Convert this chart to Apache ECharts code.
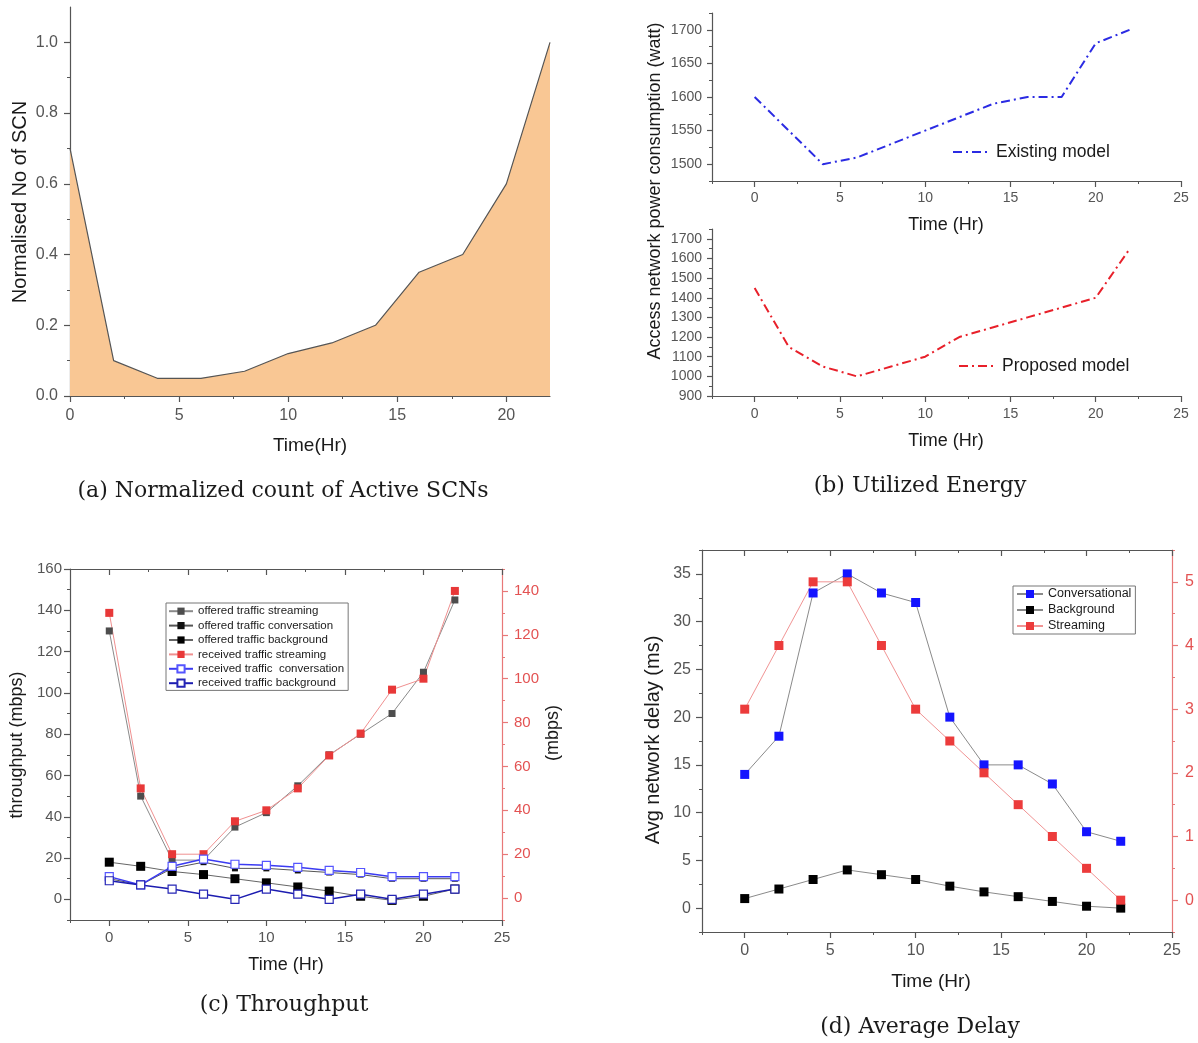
<!DOCTYPE html>
<html>
<head>
<meta charset="utf-8">
<script src="https://cdn.jsdelivr.net/npm/echarts@6/dist/echarts.min.js"></script>
<style>
html, body { margin: 0; padding: 0; background: #fff; }
#chart { width: 1198px; height: 1043px; }
</style>
</head>
<body>
<div id="chart"></div>
<script>
// ---- data ----
const hours = [0, 2, 4, 6, 8, 10, 12, 14, 16, 18, 20, 22];

// (a) normalised number of active small-cell nodes
const activeScn = [0.7, 0.1, 0.05, 0.05, 0.07, 0.12, 0.15, 0.2, 0.35, 0.4, 0.6, 1.0];

// (b) access network power consumption (watt)
const existingPower = [1600, 1550, 1500, 1510, 1530, 1550, 1570, 1590, 1600, 1600, 1680, 1700];
const proposedPower = [1450, 1150, 1050, 1000, 1050, 1100, 1200, 1250, 1300, 1350, 1400, 1650];

// (c) throughput (mbps)
const offeredStreaming = [130, 50, 19, 19, 35, 42, 55, 70, 80, 90, 110, 145];
const offeredConversation = [10, 7, 15, 18, 15, 15, 14, 13, 12, 10, 10, 10];
const offeredBackground = [18, 16, 13.5, 12, 10, 8, 6, 4, 1.5, -0.5, 1.5, 5];
const receivedStreaming = [130, 50, 20, 20, 35, 40, 50, 65, 75, 95, 100, 140];
const receivedConversation = [11, 7, 16, 19.5, 17, 16.5, 15.5, 14, 13, 11, 11, 11];
const receivedBackground = [9, 7, 5, 2.5, 0, 5, 2.5, 0, 2.5, 0, 2.5, 5];

// (d) average network delay (ms)
const conversationalDelay = [14, 18, 33, 35, 33, 32, 20, 15, 15, 13, 8, 7];
const backgroundDelay = [1, 2, 3, 4, 3.5, 3, 2.3, 1.7, 1.2, 0.7, 0.2, 0];
const streamingDelay = [3, 4, 5, 5, 4, 3, 2.5, 2, 1.5, 1, 0.5, 0];

// ---- tick values ----
const scnTimeTicks = [0, 5, 10, 15, 20];
const scnTimeMinor = [2.5, 7.5, 12.5, 17.5];
const scnTicks = [0, 0.2, 0.4, 0.6, 0.8, 1.0];
const scnMinor = [0.1, 0.3, 0.5, 0.7, 0.9];
const timeTicks = [0, 5, 10, 15, 20, 25];
const timeMinor = [-2.5, 2.5, 7.5, 12.5, 17.5, 22.5];
const existingTicks = [1500, 1550, 1600, 1650, 1700];
const existingMinor = [1475, 1525, 1575, 1625, 1675, 1725];
const proposedTicks = [900, 1000, 1100, 1200, 1300, 1400, 1500, 1600, 1700];
const proposedMinor = [950, 1050, 1150, 1250, 1350, 1450, 1550, 1650, 1750];
const throughputTicks = [0, 20, 40, 60, 80, 100, 120, 140, 160];
const throughputMinor = [-10, 10, 30, 50, 70, 90, 110, 130, 150];
const mbpsTicks = [0, 20, 40, 60, 80, 100, 120, 140];
const mbpsMinor = [-10, 10, 30, 50, 70, 90, 110, 130, 150];
const delayTicks = [0, 5, 10, 15, 20, 25, 30, 35];
const delayMinor = [-2.5, 2.5, 7.5, 12.5, 17.5, 22.5, 27.5, 32.5, 37.5];
const streamDelayTicks = [0, 1, 2, 3, 4, 5];
const streamDelayMinor = [-0.5, 0.5, 1.5, 2.5, 3.5, 4.5, 5.5];

// ---- helpers ----
const SANS = '"Liberation Sans", Arial, sans-serif';
const SERIF = '"DejaVu Serif", serif';
const GREY = '#555';
const RED_AXIS = '#e87878';
const RED_TEXT = '#e35252';

const pts = vals => hours.map((h, i) => [h, vals[i]]);

// pushes a labelled axis plus a companion axis carrying the short minor ticks
function addAxis(list, c) {
  const color = c.color || GREY;
  list.push({
    type: 'value', gridIndex: c.grid, position: c.pos, min: c.min, max: c.max,
    axisLine: { show: true, onZero: false, lineStyle: { color: color, width: 1.2 } },
    axisTick: { show: true, inside: !!c.inside, length: c.len || 6, customValues: c.major,
                lineStyle: { color: color, width: 1.2 } },
    axisLabel: c.labels === false ? { show: false } : {
      show: true, customValues: c.major, color: c.labelColor || GREY, fontSize: c.fontSize,
      fontFamily: SANS, margin: c.margin, formatter: c.formatter || (v => String(v))
    },
    splitLine: { show: false }, minorTick: { show: false }, minorSplitLine: { show: false }
  });
  const idx = list.length - 1;
  list.push({
    type: 'value', gridIndex: c.grid, position: c.pos, min: c.min, max: c.max,
    axisLine: { show: false, onZero: false },
    axisTick: { show: true, inside: !!c.inside, length: c.minorLen || 3, customValues: c.minor,
                lineStyle: { color: color, width: 1 } },
    axisLabel: { show: false },
    splitLine: { show: false }, minorTick: { show: false }
  });
  return idx;
}

function text(str, x, y, size, rotate, family) {
  return {
    type: 'text', x: x, y: y, rotation: rotate ? Math.PI / 2 : 0, silent: true,
    style: {
      text: str, fontSize: size, fontFamily: family || SANS, fill: '#1a1a1a',
      align: 'center', verticalAlign: 'middle', textAlign: 'center', textVerticalAlign: 'middle'
    }
  };
}

// ---- layout ----
const grids = [
  { left: 70, top: 7, width: 480, height: 389 },     // (a)
  { left: 712, top: 13, width: 469, height: 168 },   // (b) existing
  { left: 712, top: 229, width: 469, height: 167 },  // (b) proposed
  { left: 70, top: 569, width: 432, height: 351 },   // (c)
  { left: 702, top: 550, width: 470, height: 382 }   // (d)
].map(g => Object.assign({ containLabel: false, outerBoundsMode: 'none', show: false }, g));

const xAxes = [];
const yAxes = [];

// (a)
const xA = addAxis(xAxes, { grid: 0, pos: 'bottom', min: 0, max: 22, major: scnTimeTicks, minor: scnTimeMinor,
  fontSize: 16, margin: 12 });
const yA = addAxis(yAxes, { grid: 0, pos: 'left', min: 0, max: 1.1, major: scnTicks, minor: scnMinor,
  fontSize: 16, margin: 12, formatter: v => Number(v).toFixed(1) });

// (b)
const xB1 = addAxis(xAxes, { grid: 1, pos: 'bottom', min: -2.5, max: 25, major: timeTicks, minor: timeMinor,
  fontSize: 14, margin: 10 });
const yB1 = addAxis(yAxes, { grid: 1, pos: 'left', min: 1475, max: 1725, major: existingTicks, minor: existingMinor,
  fontSize: 14, margin: 10, len: 5 });
const xB2 = addAxis(xAxes, { grid: 2, pos: 'bottom', min: -2.5, max: 25, major: timeTicks, minor: timeMinor,
  fontSize: 14, margin: 11 });
const yB2 = addAxis(yAxes, { grid: 2, pos: 'left', min: 900, max: 1750, major: proposedTicks, minor: proposedMinor,
  fontSize: 14, margin: 10, len: 5 });

// (c)
const xC = addAxis(xAxes, { grid: 3, pos: 'bottom', min: -2.5, max: 25, major: timeTicks, minor: timeMinor,
  fontSize: 15, margin: 10 });
addAxis(xAxes, { grid: 3, pos: 'top', min: -2.5, max: 25, major: timeTicks, minor: timeMinor,
  labels: false, inside: true });
const yC = addAxis(yAxes, { grid: 3, pos: 'left', min: -10, max: 160, major: throughputTicks, minor: throughputMinor,
  fontSize: 15, margin: 8 });
const yC2 = addAxis(yAxes, { grid: 3, pos: 'right', min: -10, max: 150, major: mbpsTicks, minor: mbpsMinor,
  fontSize: 15, margin: 12, color: RED_AXIS, labelColor: RED_TEXT });

// (d)
const xD = addAxis(xAxes, { grid: 4, pos: 'bottom', min: -2.5, max: 25, major: timeTicks, minor: timeMinor,
  fontSize: 16, margin: 11 });
addAxis(xAxes, { grid: 4, pos: 'top', min: -2.5, max: 25, major: timeTicks, minor: timeMinor,
  labels: false, inside: true });
const yD = addAxis(yAxes, { grid: 4, pos: 'left', min: -2.5, max: 37.5, major: delayTicks, minor: delayMinor,
  fontSize: 16, margin: 11 });
const yD2 = addAxis(yAxes, { grid: 4, pos: 'right', min: -0.5, max: 5.5, major: streamDelayTicks, minor: streamDelayMinor,
  fontSize: 16, margin: 13, color: RED_AXIS, labelColor: RED_TEXT });

// ---- series ----
function markLine(name, xi, yi, vals, size, fill, border, lineColor, lineWidth) {
  return {
    name: name, type: 'line', xAxisIndex: xi, yAxisIndex: yi, data: pts(vals),
    symbol: 'rect', symbolSize: size,
    itemStyle: border ? { color: fill, borderColor: border, borderWidth: 1.2 } : { color: fill, borderWidth: 0 },
    lineStyle: { color: lineColor, width: lineWidth || 1 },
    emphasis: { disabled: true }
  };
}

const series = [
  {
    name: 'Normalised SCN', type: 'line', xAxisIndex: xA, yAxisIndex: yA, data: pts(activeScn),
    symbol: 'none', lineStyle: { color: '#555', width: 1.2 },
    areaStyle: { color: '#f9c794', opacity: 1 }
  },
  {
    name: 'Existing model', type: 'line', xAxisIndex: xB1, yAxisIndex: yB1, data: pts(existingPower),
    symbol: 'none', itemStyle: { color: '#2b2be3' },
    lineStyle: { color: '#2b2be3', width: 2, type: [9, 4, 2, 4] }
  },
  {
    name: 'Proposed model', type: 'line', xAxisIndex: xB2, yAxisIndex: yB2, data: pts(proposedPower),
    symbol: 'none', itemStyle: { color: '#e8202a' },
    lineStyle: { color: '#e8202a', width: 2, type: [9, 4, 2, 4] }
  },
  markLine('offered traffic streaming', xC, yC, offeredStreaming, 7, '#4d4d4d', null, '#8a8a8a'),
  markLine('offered traffic conversation', xC, yC, offeredConversation, 6, '#111', null, '#555'),
  markLine('offered traffic background', xC, yC, offeredBackground, 9, '#000', null, '#666'),
  markLine('received traffic streaming', xC, yC2, receivedStreaming, 8, '#e83838', null, '#f09090'),
  markLine('received traffic  conversation', xC, yC, receivedConversation, 8, '#fff', '#5555ff', '#3b3bf2', 1.5),
  markLine('received traffic background', xC, yC, receivedBackground, 8, '#fff', '#2525b5', '#1c1cb0', 1.5),
  markLine('Conversational', xD, yD, conversationalDelay, 9, '#1414ff', null, '#8a8a8a'),
  markLine('Background', xD, yD, backgroundDelay, 9, '#000', null, '#8a8a8a'),
  markLine('Streaming', xD, yD2, streamingDelay, 9, '#ec3b3b', null, '#f19494')
];

const modelLegend = (name, left, top) => ({
  data: [name], left: left, top: top, orient: 'vertical', padding: 0,
  itemWidth: 38, itemHeight: 14, selectedMode: false,
  itemStyle: { color: 'rgba(0,0,0,0)', borderWidth: 0 },
  textStyle: { fontSize: 17.5, color: '#1a1a1a', fontFamily: SANS }
});

const legends = [
  modelLegend('Existing model', 952, 143),
  modelLegend('Proposed model', 958, 357),
  {
    data: ['offered traffic streaming', 'offered traffic conversation', 'offered traffic background',
           'received traffic streaming', 'received traffic  conversation', 'received traffic background'],
    left: 166, top: 603, orient: 'vertical', padding: [1, 4, 0, 2], itemGap: 0,
    itemWidth: 24, itemHeight: 9, selectedMode: false,
    borderColor: '#777', borderWidth: 1, backgroundColor: '#fff',
    textStyle: { fontSize: 11.5, lineHeight: 14.4, color: '#1a1a1a', fontFamily: SANS }
  },
  {
    data: ['Conversational', 'Background', 'Streaming'],
    left: 1013, top: 586, orient: 'vertical', padding: [0, 4, 0, 3], itemGap: 0,
    itemWidth: 26, itemHeight: 10, selectedMode: false,
    borderColor: '#777', borderWidth: 1, backgroundColor: '#fff',
    textStyle: { fontSize: 12.5, lineHeight: 16, color: '#1a1a1a', fontFamily: SANS }
  }
];

const graphics = [
  text('Normalised No of SCN', 20, 202, 20, true),
  text('Time(Hr)', 310, 446, 19),
  text('Access network power consumption (watt)', 655, 191, 18, true),
  text('Time (Hr)', 946, 225, 18),
  text('Time (Hr)', 946, 441, 18),
  text('throughput (mbps)', 17, 745, 18, true),
  text('(mbps)', 553, 733, 18, true),
  text('Time (Hr)', 286, 965, 18),
  text('Avg network delay (ms)', 653, 740, 20, true),
  text('Time (Hr)', 931, 982, 19),
  text('(a) Normalized count of Active SCNs', 283, 491, 22, false, SERIF),
  text('(b) Utilized Energy', 920, 486, 22, false, SERIF),
  text('(c) Throughput', 284, 1005, 22, false, SERIF),
  text('(d) Average Delay', 920, 1027, 22, false, SERIF)
];

const chart = echarts.init(document.getElementById('chart'), null, { renderer: 'canvas' });
chart.setOption({
  animation: false,
  backgroundColor: '#fff',
  textStyle: { fontFamily: SANS },
  grid: grids,
  xAxis: xAxes,
  yAxis: yAxes,
  legend: legends,
  series: series,
  graphic: graphics
});
</script>
</body>
</html>
